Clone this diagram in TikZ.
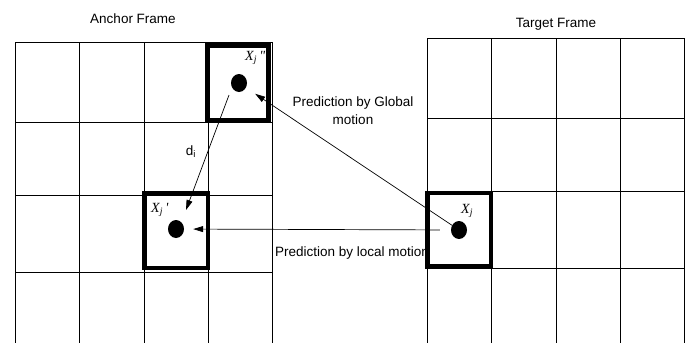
\documentclass[tikz,border=0pt]{standalone}
\usepackage{fontspec}
\setmainfont{Liberation Sans}
\newfontfamily\timesit[Ligatures=ResetAll]{Liberation Serif Italic}
\usetikzlibrary{arrows.meta,positioning,shapes.geometric}

\begin{document}
\begin{tikzpicture}[x=1pt,y=-1pt,
  font=\fontsize{13.5}{18}\selectfont,
  gridline/.style={line width=0.8pt},
  blockbox/.style={draw,line width=4.5pt,inner sep=0pt},
  pixdot/.style={ellipse,fill=black,minimum width=16pt,minimum height=18pt,inner sep=0pt},
  mvarrow/.style={-{Triangle[length=10pt,width=6pt]},line width=0.7pt},
  xlabel/.style={font=\fontsize{14}{16}\timesit,inner sep=0pt}]
\useasboundingbox (0,0) rectangle (688,343);
% anchor frame grid
\foreach \x in {15,79,144,208,272}
  \draw[gridline] (\x,42) -- (\x,343);
\foreach \y in {42,122,195,272}
  \draw[gridline] (15,\y) -- (272,\y);
% target frame grid
\foreach \x in {427,491,556,620,684}
  \draw[gridline] (\x,38) -- (\x,343);
\foreach \y in {38,118,191,268}
  \draw[gridline] (427,\y) -- (684,\y);
\node (anchortitle) at (133,19) {Anchor Frame};
\node (targettitle) at (556,24) {Target Frame};
% highlighted blocks
\node[blockbox,minimum width=61pt,minimum height=74.5pt] (blkA) at (238,82.75) {};
\node[blockbox,minimum width=63.5pt,minimum height=75pt] (blkB) at (176.25,230.5) {};
\node[blockbox,minimum width=63.5pt,minimum height=73.5pt] (blkT) at (459.25,229.75) {};
\node[pixdot] (dotA) at (239,83) {};
\node[pixdot] (dotB) at (176,229) {};
\node[pixdot] (dotT) at (459,230) {};
\node[xlabel,anchor=west] (labA) at (245,58) {X\textsubscript{j}\,\char"22};
\node[xlabel,anchor=west] (labB) at (151,210) {X\textsubscript{j}\,\char"27};
\node[xlabel,anchor=west] (labT) at (461,211) {X\textsubscript{j}};
% motion vectors
\coordinate (dstart) at (229,95);
\coordinate (dend) at (186,210);
\draw[mvarrow] (dstart) -- (dend);
\node (dlab) at (191,152) {d\textsubscript{i}};
\draw[mvarrow,shorten >=11pt] (dotT) -- (dotA);
\draw[mvarrow,shorten <=11pt,shorten >=9pt] (dotT) -- (dotB);
\node[align=center] (globlab) at (353,111) {Prediction by Global\\motion};
\node (loclab) at (352,253) {Prediction by local motion};
\end{tikzpicture}
\end{document}
